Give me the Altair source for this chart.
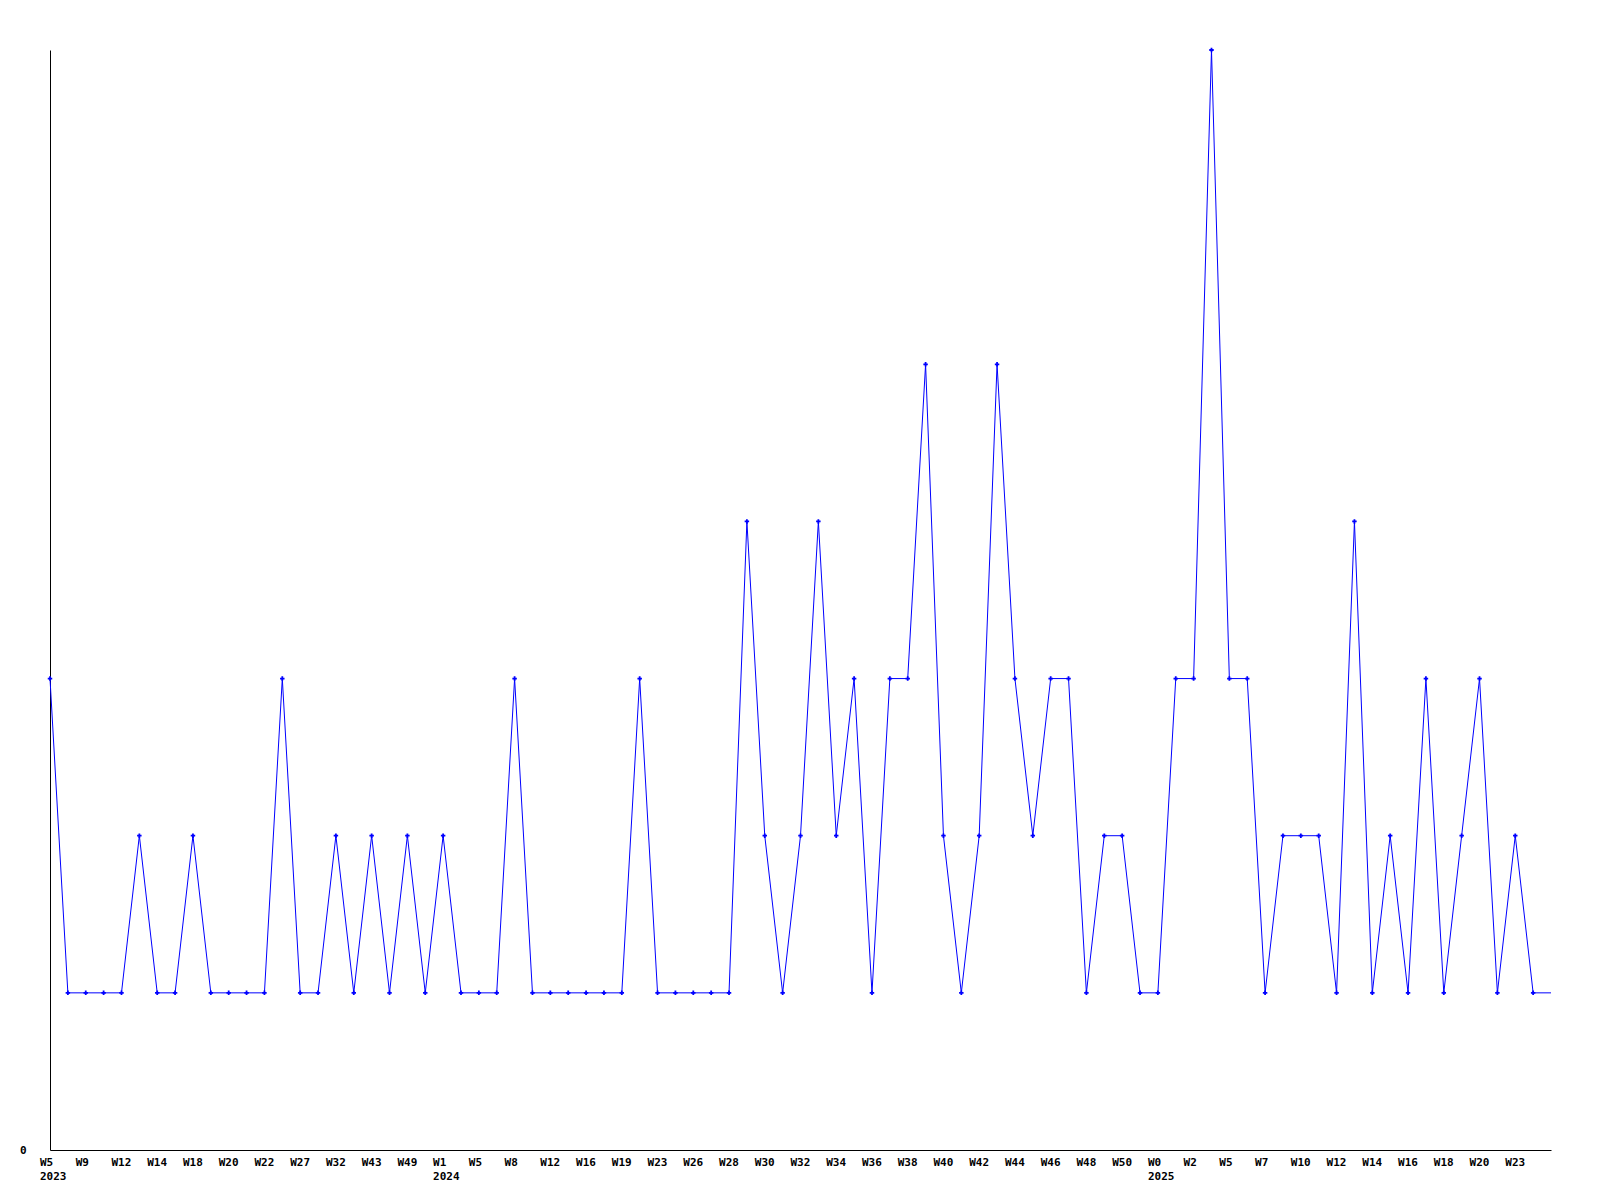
import altair as alt
import pandas as pd

# Week labels of each data point (every other one is shown on the axis)
weeks = [
    "W5", "W7", "W9", "W10", "W12", "W13", "W14", "W16", "W18", "W19",
    "W20", "W21", "W22", "W25", "W27", "W30", "W32", "W38", "W43", "W46",
    "W49", "W51", "W1", "W3", "W5", "W7", "W8", "W10", "W12", "W14",
    "W16", "W18", "W19", "W21", "W23", "W25", "W26", "W27", "W28", "W29",
    "W30", "W31", "W32", "W33", "W34", "W35", "W36", "W37", "W38", "W39",
    "W40", "W41", "W42", "W43", "W44", "W45", "W46", "W47", "W48", "W49",
    "W50", "W51", "W0", "W1", "W2", "W3", "W5", "W6", "W7", "W9",
    "W10", "W11", "W12", "W13", "W14", "W15", "W16", "W17", "W18", "W19",
    "W20", "W21", "W23", "W24", "W25",
]
years = [2023] * 22 + [2024] * 40 + [2025] * 23
values = [
    3, 1, 1, 1, 1, 2, 1, 1, 2, 1, 1, 1, 1, 3, 1, 1, 2, 1, 2, 1, 2, 1, 2, 1, 1, 1, 3,
    1, 1, 1, 1, 1, 1, 3, 1, 1, 1, 1, 1, 4, 2, 1, 2, 4, 2, 3, 1, 3, 3, 5, 2, 1, 2, 5,
    3, 2, 3, 3, 1, 2, 2, 1, 1, 3, 3, 7, 3, 3, 1, 2, 2, 2, 1, 4, 1, 2, 1, 3, 1, 2, 3, 1, 2, 1, 1,
]

df = pd.DataFrame({"i": list(range(len(values))), "week": weeks, "year": years, "v": values})
first_of_year = df.drop_duplicates("year")
n_last = len(values) - 1
shown = df[(df["i"] % 2 == 0) & (df["i"] < n_last)]

FONT = "DejaVu Sans Mono"
BLUE = "#0000FF"
W, H = 1501, 1100

x_enc = alt.X(
    "i:Q",
    scale=alt.Scale(domain=[0, n_last], nice=False, zero=False),
    axis=alt.Axis(title=None, grid=False, ticks=False, labels=False,
                  domainColor="black", domainWidth=1),
)
y_enc = alt.Y(
    "v:Q",
    scale=alt.Scale(domain=[0, 7], nice=False),
    axis=alt.Axis(
        title=None, grid=False, ticks=False, domainColor="black", domainWidth=1,
        values=[0], format="d", labelPadding=24, labelFont=FONT, labelFontSize=11,
        labelFontWeight="bold", labelColor="black",
    ),
)

base = alt.Chart(df)
line = base.mark_line(color=BLUE, strokeWidth=1).encode(x=x_enc, y=y_enc)
pts = base.mark_point(shape="cross", filled=True, color=BLUE, size=20, opacity=1).encode(
    x="i:Q", y="v:Q"
).transform_filter(alt.datum.i < n_last)
wk = alt.Chart(shown).mark_text(
    align="left", baseline="top", dx=-10, font=FONT, fontSize=11, fontWeight="bold", color="black"
).encode(x="i:Q", y=alt.value(H + 7), text="week:N")
yr = alt.Chart(first_of_year).mark_text(
    align="left", baseline="top", dx=-10, font=FONT, fontSize=11, fontWeight="bold", color="black"
).encode(x="i:Q", y=alt.value(H + 21), text="year:N")

chart = alt.layer(line, pts, wk, yr).properties(
    width=W, height=H,
    autosize=alt.AutoSizeParams(type="none"),
    padding={"left": 42, "top": 42, "right": 40, "bottom": 40},
).configure_view(strokeWidth=0)

chart.save("out.html", embed_options={"renderer": "svg", "actions": False})
